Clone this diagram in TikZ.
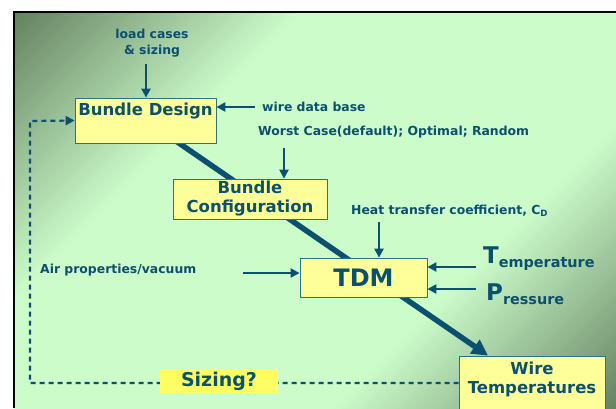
\documentclass[tikz,border=0pt]{standalone}
\usepackage{fontspec}
\setmainfont{DejaVu Sans}
\usetikzlibrary{arrows.meta,calc}
\definecolor{ink}{RGB}{12,80,112}
\definecolor{boxfill}{RGB}{255,255,153}
\definecolor{boxline}{RGB}{45,115,135}
\definecolor{sizefill}{RGB}{255,255,100}
\definecolor{bgdark}{RGB}{100,128,96}
\definecolor{bglight}{RGB}{204,252,202}
\pgfdeclarelayer{back}
\pgfdeclarelayer{mid}
\pgfsetlayers{back,mid,main}
\begin{document}
\begin{tikzpicture}[x=1pt,y=-1pt,>={Triangle[length=9pt,width=9pt]},line join=round,
	box/.style={draw=boxline,line width=0.8pt,fill=boxfill,text=ink,inner sep=0pt,align=center,
		font=\fontsize{16.5}{19}\selectfont\bfseries},
	lbl/.style={text=ink,inner sep=0pt,font=\fontsize{12.4}{16}\selectfont\bfseries},
	arr/.style={->,draw=ink,line width=2.6pt},
	flow/.style={draw=ink,line width=5.5pt,-{Triangle[length=16pt,width=16pt]}},
	loop/.style={->,draw=ink,line width=2.2pt,dash pattern=on 5pt off 4pt}]
		\useasboundingbox (0,0) rectangle (616,408);
		\begin{pgfonlayer}{back}
		\begin{scope}
		\clip (14,12) rectangle (616,408);
		% diagonal bands, dark in two corners
		\foreach \s in {20,25,...,1030}{
			\pgfmathtruncatemacro\dk{100*min(1,max(0,(abs(\s-525)-212)/287))}
			\fill[bgdark!\dk!bglight] (\s+200,-200)--(\s-800,800)--(\s-794,800)--(\s+206,-200)--cycle;
		}
		\end{scope}
		\draw[line width=1.2pt] (14,408)--(14,12)--(616,12);
		\end{pgfonlayer}
		% boxes
		\node[box,minimum width=141pt,text height=17pt,text depth=28pt] (design) at (145.5,120.5) {Bundle Design};
		\node[box,minimum width=154pt,minimum height=40pt] (config) at (250,199) {Bundle\\Configuration};
		\node[box,minimum width=127pt,minimum height=39pt,font=\fontsize{24}{24}\selectfont\bfseries] (tdm) at (363.5,277.5) {TDM};
		\node[box,minimum width=146pt,minimum height=54pt] (wiretemp) at (532,383) {Wire\\Temperatures\rule[-10pt]{0pt}{0pt}};
		% inputs
		\node[lbl,align=center] (loads) at (152,43) {load cases\\\& sizing};
		\node[lbl,anchor=west] (wiredb) at (262,107) {wire data base};
		\node[lbl,anchor=west] (worst) at (258,132) {Worst Case(default); Optimal; Random};
		\node[lbl,anchor=west] (heat) at (351,211) {Heat transfer coefficient, C\textsubscript{D}};
		\node[lbl,anchor=west] (air) at (40,270) {Air properties/vacuum};
		\node[lbl,anchor=base west,font=\fontsize{23}{23}\selectfont\bfseries] (temp) at (483,263) {T\raisebox{-4pt}{\fontsize{14.4}{16}\selectfont emperature}};
		\node[lbl,anchor=base west,font=\fontsize{23}{23}\selectfont\bfseries] (press) at (486,300) {P\raisebox{-4pt}{\fontsize{14.4}{16}\selectfont ressure}};
		\coordinate (loadtail) at (146,64);
		\coordinate (worsttail) at (284,148);
		\coordinate (heattail) at (379,222);
		\coordinate (airtail) at (243,273);
		\coordinate (temptail) at (476,267);
		\coordinate (presstail) at (476,289);
		\coordinate (loopcorner) at (30,121);
		\draw[arr] (loadtail)--(loadtail |- design.north);
		\draw[arr,shorten <=7pt] (wiredb.west)--(wiredb.west -| design.east);
		\draw[arr] (worsttail)--(worsttail |- config.north);
		\draw[arr] (heattail)--(heattail |- tdm.north);
		\draw[arr] (airtail)--(airtail -| tdm.west);
		\draw[arr] (temptail)--(temptail -| tdm.east);
		\draw[arr] (presstail)--(presstail -| tdm.east);
		\begin{pgfonlayer}{mid}
		\draw[flow] ($(design.south)+(30,-2.7)$)--($(wiretemp.north)+(-44,0)$);
		\end{pgfonlayer}
		% sizing loop
		\draw[loop] (wiretemp.west)-|(loopcorner)--(design.west);
		\node[fill=sizefill,text=ink,inner sep=0pt,minimum width=118pt,minimum height=24pt,
			font=\fontsize{19}{19}\selectfont\bfseries] (sizing) at (219,381) {Sizing?};
\end{tikzpicture}
\end{document}
